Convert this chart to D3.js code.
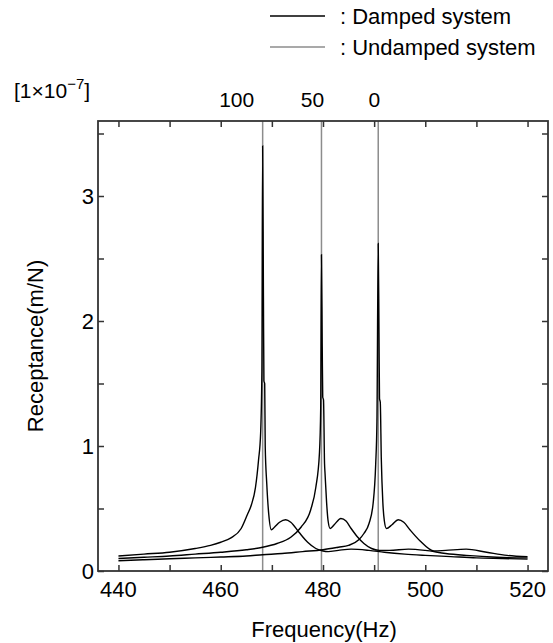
<!DOCTYPE html>
<html>
<head>
<meta charset="utf-8">
<script src="https://cdn.jsdelivr.net/npm/d3@7"></script>
<style>
body { margin: 0; background: #fff; }
text { font-family: "Liberation Sans", Arial, sans-serif; fill: #000; }
</style>
</head>
<body>
<div class="chart"></div>
<script>
// damped curves, [frequency Hz, receptance x1e-7 m/N]
var damped100 = [[440,0.12],[445,0.135],[450,0.15],[455,0.18],[458,0.205],[460,0.23],[462,0.265],[464,0.34],[465.2,0.45],[466,0.53],[466.8,0.67],[467.4,0.89],[467.8,1.1],[468.05,1.6],[468.2,3.4],[468.35,2.2],[468.45,1.52],[468.6,1.5],[468.7,1.0],[469,0.7],[469.4,0.45],[469.9,0.33],[470.5,0.35],[471.5,0.39],[472.7,0.41],[473.7,0.39],[475.3,0.31],[477,0.23],[478.6,0.18],[480,0.16],[481,0.155],[483,0.165],[485.5,0.175],[489,0.165],[492,0.15],[496,0.135],[500,0.125],[505,0.115],[510,0.105],[515,0.1],[520,0.095]]
var damped50 = [[440,0.1],[445,0.11],[450,0.12],[455,0.135],[460,0.15],[465,0.17],[468.2,0.19],[471,0.22],[473.7,0.27],[475.7,0.35],[477.6,0.49],[478.6,0.67],[479.3,0.94],[479.55,1.3],[479.7,2.53],[479.85,1.8],[479.95,1.39],[480.1,1.37],[480.3,0.86],[480.4,0.78],[480.7,0.55],[481,0.4],[481.4,0.34],[482.2,0.37],[483.5,0.42],[484.5,0.4],[485.5,0.34],[486.8,0.27],[488,0.22],[489.5,0.18],[491,0.165],[493,0.165],[496.7,0.175],[500,0.165],[504,0.14],[508,0.125],[514,0.11],[520,0.105]]
var damped0 = [[440,0.082],[445,0.09],[450,0.098],[455,0.105],[460,0.112],[465,0.12],[468.2,0.13],[472,0.14],[476,0.155],[480,0.17],[483,0.19],[485,0.205],[487,0.25],[488,0.3],[489,0.38],[489.8,0.54],[490.3,0.85],[490.55,1.2],[490.8,2.62],[490.95,1.9],[491.05,1.38],[491.2,1.35],[491.4,0.9],[491.7,0.55],[492,0.4],[492.4,0.34],[493.5,0.37],[494.7,0.41],[495.8,0.39],[497,0.33],[499,0.24],[501.7,0.16],[504,0.165],[508,0.175],[512,0.15],[516,0.125],[520,0.115]]
var dampedCurves = [damped100, damped50, damped0]

// undamped resonances (vertical lines) and their labels
var undampedFreq = [468.2, 479.7, 490.8]
var undampedLabels = ["100", "50", "0"]

var xTicks = [440, 460, 480, 500, 520]
var xMinor = [450, 470, 490, 510]
var yTicks = [0, 1, 2, 3]
var yMinor = [0.5, 1.5, 2.5, 3.5]

var width = 553, height = 643
var m = {left: 98, right: 5, top: 121, bottom: 72}
var svg = d3.select(".chart").append("svg").attr("width", width).attr("height", height)

//scales
var x = d3.scaleLinear().domain([436, 524]).range([m.left, width - m.right])
var y = d3.scaleLinear().domain([0, 3.6]).range([height - m.bottom, m.top])

var x0 = x.range()[0], x1 = x.range()[1], y0 = y.range()[0], y1 = y.range()[1]

// undamped lines
svg.append("g").selectAll("line").data(undampedFreq).enter().append("line")
	.attr("x1", function(d){return x(d)}).attr("x2", function(d){return x(d)})
	.attr("y1", y0).attr("y2", y1)
	.attr("stroke", "#8c8c8c").attr("stroke-width", 1.5)

// damped curves
var line = d3.line().curve(d3.curveMonotoneX).x(function(d){return x(d[0])}).y(function(d){return y(d[1])})
svg.append("g").selectAll("path").data(dampedCurves).enter().append("path")
	.attr("d", line)
	.attr("fill", "none").attr("stroke", "#000").attr("stroke-width", 1.4)

// axes, ticks inward on all four sides
var tickLen = 6
function axis(gen, tx, ty, ticks) {
	svg.append("g").attr("transform", "translate(" + tx + "," + ty + ")")
		.call(gen.tickValues(ticks).tickSize(-tickLen).tickFormat("").tickSizeOuter(0))
		.call(function(g){ g.select(".domain").remove() })
		.selectAll("line").attr("stroke", "#333").attr("stroke-width", 1.5)
}
axis(d3.axisBottom(x), 0, y0, xTicks.concat(xMinor))
axis(d3.axisTop(x), 0, y1, xTicks.concat(xMinor))
axis(d3.axisLeft(y), x0, 0, yTicks.concat(yMinor))
axis(d3.axisRight(y), x1, 0, yTicks.concat(yMinor))

svg.append("rect").attr("x", x0).attr("y", y1).attr("width", x1 - x0).attr("height", y0 - y1)
	.attr("fill", "none").attr("stroke", "#333").attr("stroke-width", 1.8)

// tick labels
svg.append("g").selectAll("text").data(xTicks).enter().append("text")
	.attr("x", function(d){return x(d)}).attr("y", y0 + 26)
	.attr("text-anchor", "middle").style("font-size", "22px")
	.text(function(d){return d})
svg.append("g").selectAll("text").data(yTicks).enter().append("text")
	.attr("x", x0 - 4).attr("y", function(d){return y(d) + 8})
	.attr("text-anchor", "end").style("font-size", "22px")
	.text(function(d){return d})

// labels above undamped lines (nudged left like the original)
var labelShift = [-26, -9, -4]
svg.append("g").selectAll("text").data(undampedLabels).enter().append("text")
	.attr("x", function(d,i){return x(undampedFreq[i]) + labelShift[i]}).attr("y", 107)
	.attr("text-anchor", "middle").style("font-size", "21px")
	.text(function(d){return d})

// unit
var unit = svg.append("text").attr("x", 14).attr("y", 98).style("font-size", "21px")
unit.append("tspan").text("[1×10")
unit.append("tspan").attr("dy", -9).style("font-size", "15px").text("−7")
unit.append("tspan").attr("dy", 9).text("]")

// axis titles
svg.append("text").attr("x", 324).attr("y", 637)
	.attr("text-anchor", "middle").style("font-size", "22px").text("Frequency(Hz)")
svg.append("text").attr("transform", "translate(43," + ((y0 + y1) / 2) + ") rotate(-90)")
	.attr("text-anchor", "middle").style("font-size", "22px").text("Receptance(m/N)")

// legend
var legend = [["Damped system", "#000"], ["Undamped system", "#8c8c8c"]]
var lg = svg.append("g").selectAll("g").data(legend).enter().append("g")
	.attr("transform", function(d,i){return "translate(270," + (16 + i * 31) + ")"})
lg.append("line").attr("x1", 0).attr("x2", 55).attr("y1", 0).attr("y2", 0)
	.attr("stroke", function(d){return d[1]}).attr("stroke-width", 1.4)
lg.append("text").attr("x", 70).attr("y", 8).style("font-size", "22px")
	.text(function(d){return ": " + d[0]})
</script>
</body>
</html>
